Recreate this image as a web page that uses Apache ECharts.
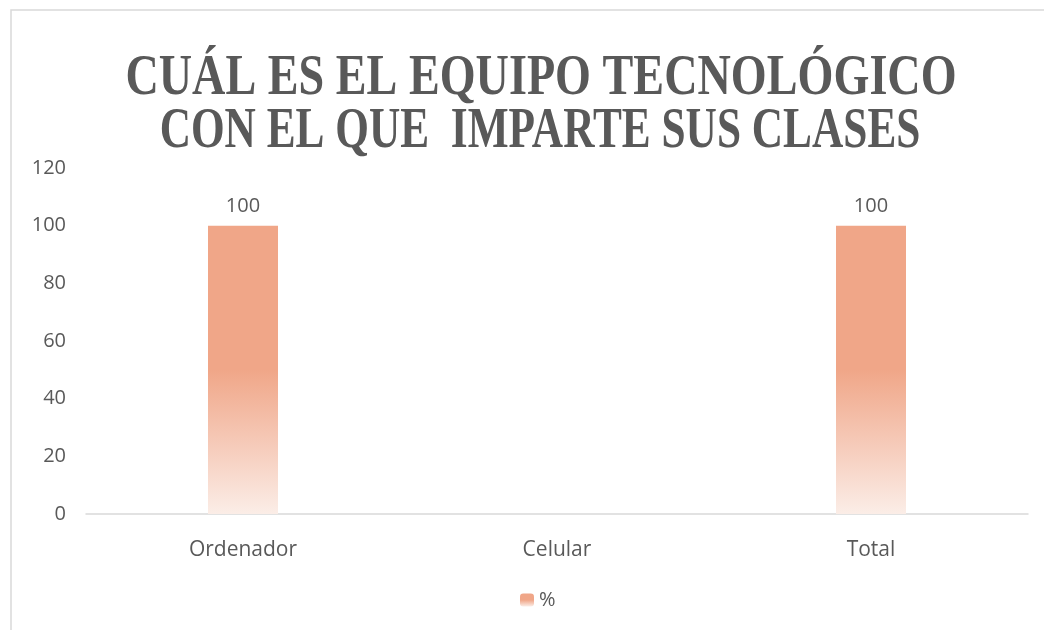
<!DOCTYPE html>
<html>
<head>
<meta charset="utf-8">
<script src="https://cdn.jsdelivr.net/npm/echarts@6/dist/echarts.min.js"></script>
<style>
  html, body { margin: 0; padding: 0; background: #fff; }
  #chart { width: 1044px; height: 630px; }
</style>
</head>
<body>
<div id="chart"></div>
<script>
// datos del gráfico
var categorias = ['Ordenador', 'Celular', 'Total'];
var porcentaje = [100, null, 100];
var serieNombre = '%';
var titulo = ['CUÁL ES EL EQUIPO TECNOLÓGICO', 'CON EL QUE  IMPARTE SUS CLASES'];

var chart = echarts.init(document.getElementById('chart'));

var gris = '#595959';
var fuente = 'Open Sans';

// degradado de las barras (arriba sólido, abajo casi blanco)
var degradado = new echarts.graphic.LinearGradient(0, 0, 0, 1, [
  { offset: 0, color: '#F0A688' },
  { offset: 0.5, color: '#F0A688' },
  { offset: 1, color: '#FBEDE7' }
]);

var option = {
  backgroundColor: '#fff',
  animation: false,
  graphic: [
    {
      // marco del gráfico
      type: 'rect',
      shape: { x: 11, y: 10, width: 1100, height: 700 },
      style: { fill: 'none', stroke: '#D9D9D9', lineWidth: 1.5 },
      silent: true
    },
    {
      type: 'text',
      x: 541,
      y: 79,
      scaleX: 0.81,
      style: {
        text: titulo[0],
        font: 'bold 57px "Liberation Serif"',
        fill: gris,
        align: 'center',
        verticalAlign: 'middle'
      }
    },
    {
      type: 'text',
      x: 540,
      y: 132,
      scaleX: 0.76,
      style: {
        text: titulo[1],
        font: 'bold 57px "Liberation Serif"',
        fill: gris,
        align: 'center',
        verticalAlign: 'middle'
      }
    }
  ],
  grid: {
    left: 86,
    right: 16,
    top: 168,
    bottom: 116
  },
  legend: {
    data: [serieNombre],
    left: 515,
    top: 585,
    itemWidth: 14,
    itemHeight: 13,
    itemGap: 6,
    textStyle: { color: gris, fontSize: 20, fontFamily: fuente }
  },
  xAxis: {
    type: 'category',
    data: categorias,
    axisLine: { lineStyle: { color: '#D9D9D9', width: 1.5 } },
    axisTick: { show: false },
    axisLabel: { color: gris, fontSize: 21, fontFamily: fuente, margin: 26 }
  },
  yAxis: {
    type: 'value',
    min: 0,
    max: 120,
    interval: 20,
    axisLine: { show: false },
    axisTick: { show: false },
    splitLine: { show: false },
    axisLabel: { color: gris, fontSize: 20, fontFamily: fuente, margin: 20 }
  },
  series: [
    {
      name: serieNombre,
      type: 'bar',
      data: porcentaje,
      barWidth: 70,
      itemStyle: { color: degradado },
      label: {
        show: true,
        position: 'top',
        distance: 9,
        color: gris,
        fontSize: 20,
        fontFamily: fuente
      }
    }
  ]
};

chart.setOption(option);
</script>
</body>
</html>
